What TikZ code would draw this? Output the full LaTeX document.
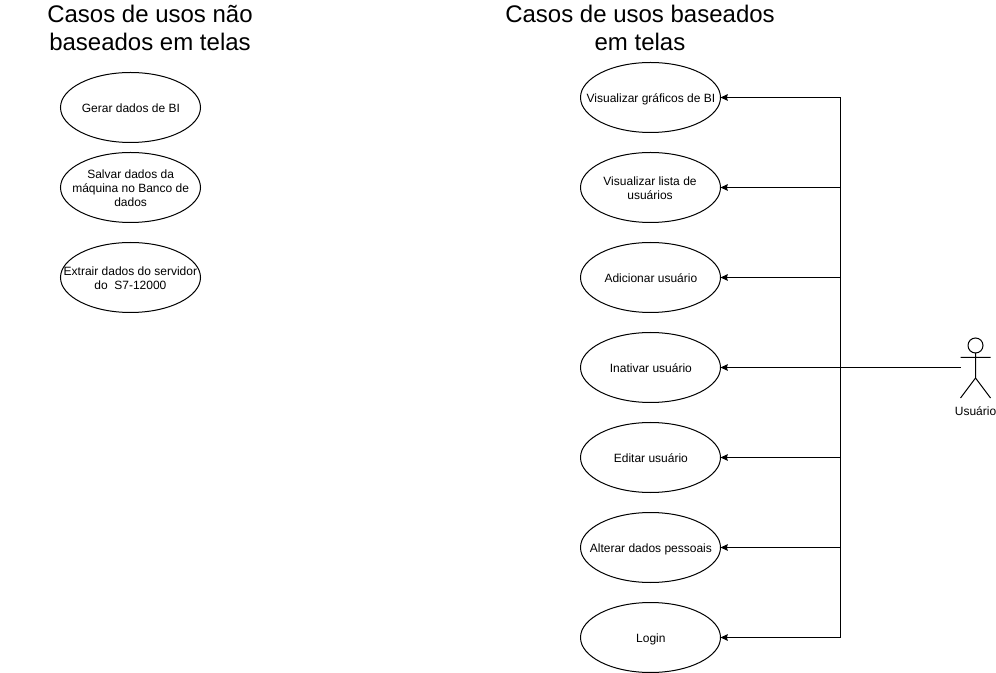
\documentclass[tikz,border=0pt]{standalone}
\usepackage{fontspec}
\setmainfont{Liberation Sans}
\usetikzlibrary{shapes.geometric,arrows.meta}
\newcommand{\uclabel}[2][0.6pt]{\hspace*{#1}\raisebox{-3.7pt}[0pt][0pt]{\makebox[0pt]{\begin{tabular}{@{}c@{}}#2\end{tabular}}}}
\tikzset{
 x=0.75pt,y=-0.75pt,
 uc/.style={draw=black,line width=0.75pt,ellipse,minimum width=105pt,minimum height=52.5pt,inner sep=0pt,outer sep=0pt,font=\fontsize{9}{10.5}\selectfont,fill=white},
 ttl/.style={align=center,font=\fontsize{18}{21}\selectfont,inner sep=0pt},
 conn/.style={draw=black,line width=0.75pt,-{Stealth[length=5.5pt,width=5pt,inset=0.8pt]}},
 act/.style={draw=black,line width=0.75pt},
}
\begin{document}
\begin{tikzpicture}
\renewcommand{\arraystretch}{1}
\setlength{\tabcolsep}{0pt}
\useasboundingbox (0,0) rectangle (996,673);
\node[ttl] (t1) at (150,28) {Casos de usos não\\baseados em telas};
\node[ttl] (t2) at (640,28) {Casos de usos baseados\\em telas};
\node[uc] (a1) at (130.5,107.5) {\uclabel{Gerar dados de BI}};
\node[uc] (a2) at (130.5,187.5) {\uclabel[0.2pt]{Salvar dados da\\máquina no Banco de\\dados}};
\node[uc] (a3) at (130.5,277.5) {\uclabel[-0.2pt]{Extrair dados do servidor\\do\ \ S7-12000}};
\node[uc] (b1) at (650.5,97.5) {\uclabel{Visualizar gráficos de BI}};
\node[uc] (b2) at (650.5,187.5) {\uclabel[-0.7pt]{Visualizar lista de\\usuários}};
\node[uc] (b3) at (650.5,277.5) {\uclabel{Adicionar usuário}};
\node[uc] (b4) at (650.5,367.5) {\uclabel{Inativar usuário}};
\node[uc] (b5) at (650.5,457.5) {\uclabel{Editar usuário}};
\node[uc] (b6) at (650.5,547.5) {\uclabel{Alterar dados pessoais}};
\node[uc] (b7) at (650.5,637.5) {\uclabel{Login}};
\coordinate (hand) at (960.5,367.5);
\coordinate (bus) at (840.5,367.5);
\draw[act] (975.5,345.5) circle (7.5*0.75pt);
\draw[act] (975.5,353) -- (975.5,378) (960.5,357.5) -- (990.5,357.5) (960.5,398) -- (975.5,378) -- (990.5,398);
\node[inner sep=0pt,font=\fontsize{9}{10.5}\selectfont] (lab) at (975.5,411.5) {Usuário};
\draw[conn] (hand) -- (b4);
\foreach \n in {b1,b2,b3,b5,b6,b7}{
 \draw[conn] (bus) |- (\n);
}
\end{tikzpicture}
\end{document}
